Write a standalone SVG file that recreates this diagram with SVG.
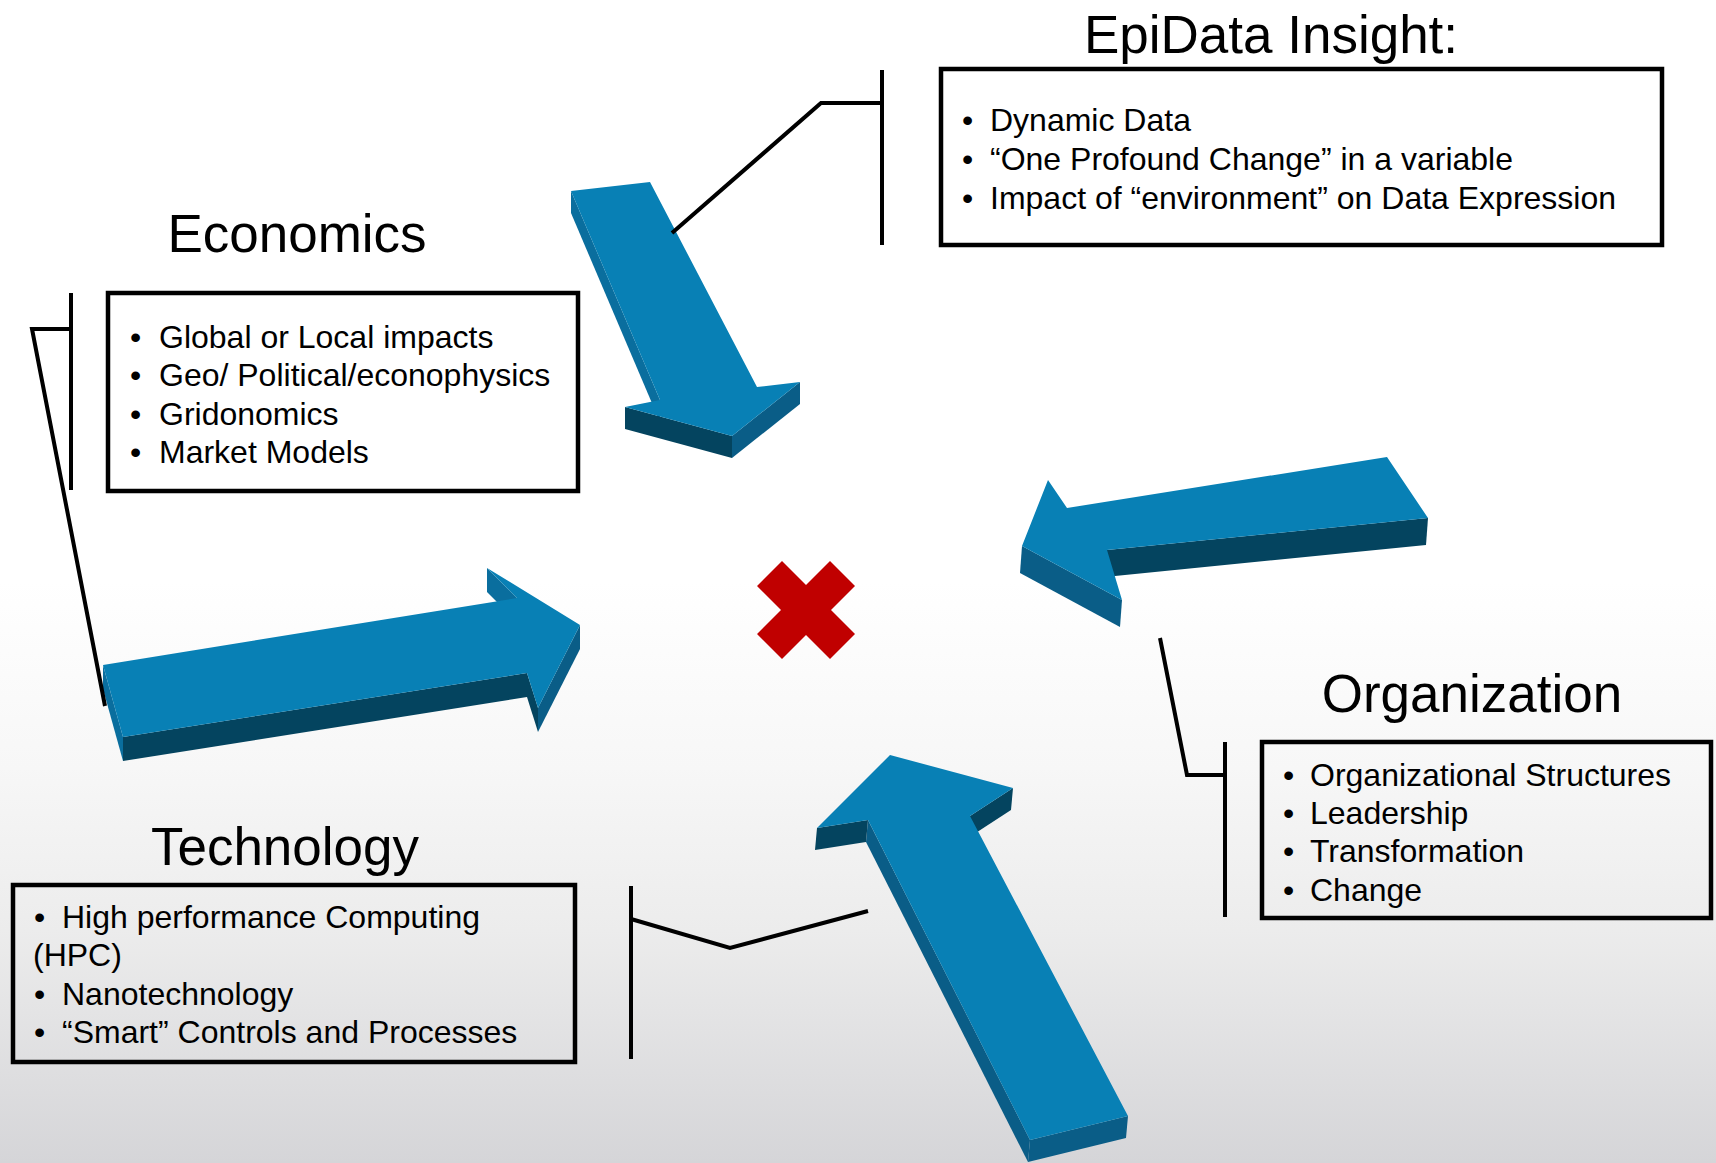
<svg xmlns="http://www.w3.org/2000/svg" width="1716" height="1163" viewBox="0 0 1716 1163">
  <defs>
    <linearGradient id="bg" x1="0" y1="0" x2="0" y2="1">
      <stop offset="0" stop-color="#ffffff"/>
      <stop offset="0.5" stop-color="#ffffff"/>
      <stop offset="0.66" stop-color="#f7f7f7"/>
      <stop offset="0.8" stop-color="#ececec"/>
      <stop offset="1" stop-color="#d5d5d8"/>
    </linearGradient>
    <style>
      .title { font-family: "Liberation Sans", Arial, sans-serif; font-size: 53px; fill: #000; text-anchor: middle; }
      .item { font-family: "Liberation Sans", Arial, sans-serif; font-size: 32px; fill: #000; }
      .box { fill: none; stroke: #000; stroke-width: 4.5; }
      .link { fill: none; stroke: #000; stroke-width: 4; stroke-linejoin: miter; }
      .top { fill: #0880b5; }
      .shade1 { fill: #0a6e9e; }
      .shade2 { fill: #0a5d87; }
      .shade3 { fill: #04445f; }
    </style>
  </defs>

  <!-- backdrop -->
  <rect x="0" y="0" width="1716" height="1163" fill="url(#bg)"/>

  <!-- 3D arrows pointing at the centre -->
  <g id="arrows">
    <!-- arrow from the top (EpiData) -->
    <g id="arrow-top">
      <polygon class="shade1" points="660,400 571,191 571,213 660,422"/>
      <polygon class="shade2" points="800,382 732,436 732,458 800,404"/>
      <polygon class="shade3" points="732,436 625,407 625,429 732,458"/>
      <polygon class="top" points="571,191 650,182 757,387 800,382 732,436 625,407 660,400"/>
    </g>
    <!-- arrow from the right (Organization) -->
    <g id="arrow-right">
      <polygon class="shade3" points="1428,518 1107,550 1105,577 1426,545"/>
      <polygon class="shade2" points="1122,600 1022,546 1020,573 1120,627"/>
      <polygon class="top" points="1387,457 1428,518 1107,550 1122,600 1022,546 1048,480 1067,508"/>
    </g>
    <!-- arrow from the left (Economics) -->
    <g id="arrow-left">
      <polygon class="shade1" points="517,598 487,568 487,592 517,622"/>
      <polygon class="shade2" points="580,625 538,708 538,732 580,649"/>
      <polygon class="shade3" points="538,708 527,673 527,697 538,732"/>
      <polygon class="shade3" points="527,673 123,737 123,761 527,697"/>
      <polygon class="shade1" points="123,737 103,665 103,689 123,761"/>
      <polygon class="top" points="103,665 517,598 487,568 580,625 538,708 527,673 123,737"/>
    </g>
    <!-- arrow from the bottom (Technology) -->
    <g id="arrow-bottom">
      <polygon class="shade3" points="1013,788 970,816 968,838 1011,810"/>
      <polygon class="shade2" points="1128,1116 1030,1140 1028,1162 1126,1138"/>
      <polygon class="shade2" points="1030,1140 868,820 866,842 1028,1162"/>
      <polygon class="shade3" points="868,820 817,828 815,850 866,842"/>
      <polygon class="top" points="890,755 1013,788 970,816 1128,1116 1030,1140 868,820 817,828"/>
    </g>
  </g>

  <!-- red cross in the centre -->
  <g id="centre-mark">
    <polygon fill="#c00000" points="806,585 830,561 855,586 831,610 855,634 830,659 806,635 782,659 757,634 781,610 757,586 782,561"/>
  </g>

  <!-- bracket connectors -->
  <g id="connectors">
    <line class="link" x1="882" y1="70" x2="882" y2="245"/>
    <polyline class="link" points="882,103 821,103 672,233"/>
    <line class="link" x1="71" y1="293" x2="71" y2="490"/>
    <polyline class="link" points="71,329 32,329 105,706"/>
    <line class="link" x1="1225" y1="742" x2="1225" y2="917"/>
    <polyline class="link" points="1225,775 1187,775 1160,638"/>
    <line class="link" x1="631" y1="886" x2="631" y2="1059"/>
    <polyline class="link" points="631,919 730,948 868,911"/>
  </g>

  <g id="node-epidata">
    <text class="title" x="1271" y="53">EpiData Insight:</text>
    <rect class="box" x="941" y="69" width="721" height="176"/>
    <text class="item" x="962" y="131">•</text>
    <text class="item" x="990" y="131">Dynamic Data</text>
    <text class="item" x="962" y="170">•</text>
    <text class="item" x="990" y="170">“One Profound Change” in a variable</text>
    <text class="item" x="962" y="209">•</text>
    <text class="item" x="990" y="209">Impact of “environment” on Data Expression</text>
  </g>

  <g id="node-economics">
    <text class="title" x="297" y="252">Economics</text>
    <rect class="box" x="108" y="293" width="470" height="198"/>
    <text class="item" x="130" y="348">•</text>
    <text class="item" x="159" y="348">Global or Local impacts</text>
    <text class="item" x="130" y="386">•</text>
    <text class="item" x="159" y="386">Geo/ Political/econophysics</text>
    <text class="item" x="130" y="425">•</text>
    <text class="item" x="159" y="425">Gridonomics</text>
    <text class="item" x="130" y="463">•</text>
    <text class="item" x="159" y="463">Market Models</text>
  </g>

  <g id="node-organization">
    <text class="title" x="1472" y="712">Organization</text>
    <rect class="box" x="1262" y="742" width="449" height="176"/>
    <text class="item" x="1283" y="786">•</text>
    <text class="item" x="1310" y="786">Organizational Structures</text>
    <text class="item" x="1283" y="824">•</text>
    <text class="item" x="1310" y="824">Leadership</text>
    <text class="item" x="1283" y="862">•</text>
    <text class="item" x="1310" y="862">Transformation</text>
    <text class="item" x="1283" y="901">•</text>
    <text class="item" x="1310" y="901">Change</text>
  </g>

  <g id="node-technology">
    <text class="title" x="285" y="865">Technology</text>
    <rect class="box" x="13" y="885" width="562" height="177"/>
    <text class="item" x="34" y="928">•</text>
    <text class="item" x="62" y="928">High performance Computing</text>
    <text class="item" x="33" y="966">(HPC)</text>
    <text class="item" x="34" y="1005">•</text>
    <text class="item" x="62" y="1005">Nanotechnology</text>
    <text class="item" x="34" y="1043">•</text>
    <text class="item" x="62" y="1043">“Smart” Controls and Processes</text>
  </g>
</svg>
